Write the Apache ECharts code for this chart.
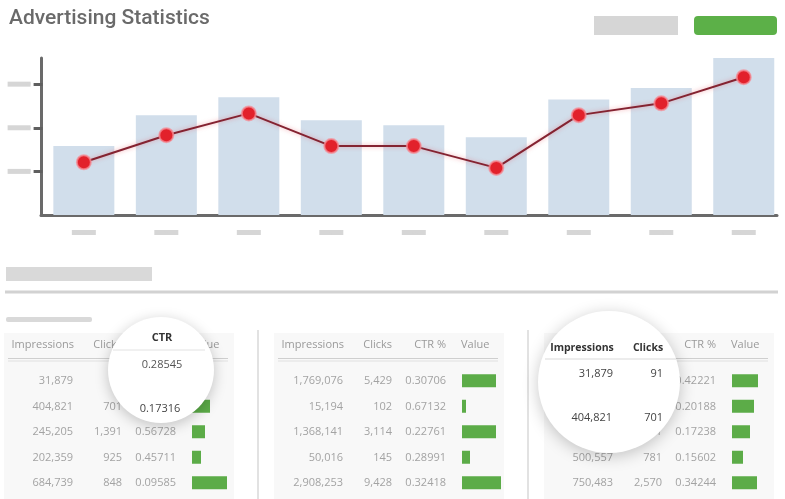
<!DOCTYPE html>
<html>
<head>
<meta charset="utf-8">
<script src="https://cdn.jsdelivr.net/npm/echarts@6/dist/echarts.min.js"></script>
<style>
  html, body { margin: 0; padding: 0; background: #fff; }
  #main { width: 785px; height: 499px; }
</style>
</head>
<body>
<div id="main"></div>
<script>
var categories = ['Jan', 'Feb', 'Mar', 'Apr', 'May', 'Jun', 'Jul', 'Aug', 'Sep'];
var barValues = [158, 229, 270, 217, 206, 178, 265, 291, 360];
var lineValues = [121, 183, 233, 158, 158, 108, 229, 256, 316];
var yTicks = [100, 200, 300];

var headers = ['Impressions', 'Clicks', 'CTR %', 'Value'];

var impressions1 = ['31,879', '404,821', '245,205', '202,359', '684,739'];
var clicks1 = ['91', '701', '1,391', '925', '848'];
var ctr1 = ['0.28545', '0.17316', '0.56728', '0.45711', '0.09585'];
var value1 = [14, 18, 13, 9, 35];

var impressions2 = ['1,769,076', '15,194', '1,368,141', '50,016', '2,908,253'];
var clicks2 = ['5,429', '102', '3,114', '145', '9,428'];
var ctr2 = ['0.30706', '0.67132', '0.22761', '0.28991', '0.32418'];
var value2 = [34, 4, 34, 8, 39];

var impressions3 = ['21,553', '347,236', '250,029', '500,557', '750,483'];
var clicks3 = ['91', '701', '431', '781', '2,570'];
var ctr3 = ['0.42221', '0.20188', '0.17238', '0.15602', '0.34244'];
var value3 = [26, 22, 18, 11, 25];

var myChart = echarts.init(document.getElementById('main'));

var tableFont = '11px "Open Sans", sans-serif';
var rowY = [381, 406.5, 432, 457.5, 483];
var panels = [
    {off: 0, imp: impressions1, clk: clicks1, ctr: ctr1, val: value1},
    {off: 270, imp: impressions2, clk: clicks2, ctr: ctr2, val: value2},
    {off: 540, imp: impressions3, clk: clicks3, ctr: ctr3, val: value3}
];

function txt(x, y, s, align, fill, font, z) {
    return {
        type: 'text', x: x, y: y, z: z || 5,
        style: {text: s, fill: fill, font: font || tableFont, textAlign: align, textVerticalAlign: 'middle'}
    };
}

var graphics = [
    {type: 'rect', shape: {x: 594, y: 16, width: 84, height: 19}, style: {fill: '#d6d6d6'}},
    {type: 'rect', shape: {x: 694, y: 16, width: 83, height: 19, r: 4}, style: {fill: '#5cb048'}},
    {type: 'rect', shape: {x: 6, y: 267, width: 146, height: 14}, style: {fill: '#d9d9d9'}},
    {type: 'line', shape: {x1: 5, y1: 292, x2: 778, y2: 292}, style: {stroke: '#d2d2d2', lineWidth: 3}},
    {type: 'rect', shape: {x: 6, y: 317, width: 86, height: 5, r: 2}, style: {fill: '#d9d9d9'}},
    {type: 'line', shape: {x1: 258, y1: 330, x2: 258, y2: 499}, style: {stroke: '#d8d8d8', lineWidth: 1.5}},
    {type: 'line', shape: {x1: 528, y1: 330, x2: 528, y2: 499}, style: {stroke: '#d8d8d8', lineWidth: 1.5}}
];

var grids = [
    {left: 42.6, right: -2.8, top: 58, bottom: 284},
    {left: 41, right: 8, top: 58, bottom: 284}
];
var xAxes = [], yAxes = [], series = [];

panels.forEach(function (p, k) {
    var o = p.off;
    graphics.push({type: 'rect', z: 0, shape: {x: o + 4, y: 333, width: 230, height: 166}, style: {fill: '#f8f8f8'}});
    graphics.push(txt(o + 74, 345, headers[0], 'right', '#9a9a9a'));
    graphics.push(txt(o + 122, 345, headers[1], 'right', '#9a9a9a'));
    graphics.push(txt(o + 176, 345, headers[2], 'right', '#9a9a9a'));
    graphics.push(txt(o + 191, 345, headers[3], 'left', '#9a9a9a'));
    graphics.push({type: 'line', shape: {x1: o + 8, y1: 358.5, x2: o + 228, y2: 358.5}, style: {stroke: '#cfcfcf', lineWidth: 1.2}});
    graphics.push({type: 'line', shape: {x1: o + 8, y1: 361, x2: o + 228, y2: 361}, style: {stroke: '#e0e0e0', lineWidth: 1}});
    for (var i = 0; i < 5; i++) {
        graphics.push(txt(o + 73, rowY[i], p.imp[i], 'right', '#a3a3a3'));
        graphics.push(txt(o + 122, rowY[i], p.clk[i], 'right', '#a3a3a3'));
        graphics.push(txt(o + 176, rowY[i], p.ctr[i], 'right', '#a3a3a3'));
    }
    var gi = grids.length;
    grids.push({left: o + 192, width: 40, top: 368, height: 127.5});
    xAxes.push({gridIndex: gi, type: 'value', min: 0, max: 40, show: false});
    yAxes.push({gridIndex: gi, type: 'category', inverse: true, data: ['1', '2', '3', '4', '5'], show: false});
    series.push({
        type: 'bar', xAxisIndex: gi, yAxisIndex: gi, data: p.val, barWidth: 13,
        itemStyle: {color: '#5cac48'}, silent: true
    });
});

// magnifier 1
graphics.push({type: 'circle', z: 50, shape: {cx: 161, cy: 370, r: 53},
    style: {fill: '#fff', shadowBlur: 14, shadowColor: 'rgba(0,0,0,0.22)', shadowOffsetY: 3}});
graphics.push(txt(162, 338, 'CTR', 'center', '#333', 'bold 11px "Open Sans", sans-serif', 51));
graphics.push({type: 'line', z: 51, shape: {x1: 113, y1: 350, x2: 205, y2: 350}, style: {stroke: '#e2e2e2', lineWidth: 1}});
graphics.push(txt(162, 365, ctr1[0], 'center', '#555', '11px "Open Sans", sans-serif', 51));
graphics.push(txt(160, 409, ctr1[1], 'center', '#444', '11px "Open Sans", sans-serif', 51));

// magnifier 2
graphics.push({type: 'circle', z: 50, shape: {cx: 609, cy: 382, r: 71},
    style: {fill: '#fff', shadowBlur: 16, shadowColor: 'rgba(0,0,0,0.22)', shadowOffsetY: 3}});
graphics.push(txt(582, 348, 'Impressions', 'center', '#333', 'bold 10.5px "Open Sans", sans-serif', 51));
graphics.push(txt(648, 348, 'Clicks', 'center', '#333', 'bold 10.5px "Open Sans", sans-serif', 51));
graphics.push({type: 'line', z: 51, shape: {x1: 545, y1: 359, x2: 676, y2: 359}, style: {stroke: '#e6e6e6', lineWidth: 1.5}});
graphics.push(txt(613, 374, impressions1[0], 'right', '#444', '11px "Open Sans", sans-serif', 51));
graphics.push(txt(663, 374, clicks1[0], 'right', '#444', '11px "Open Sans", sans-serif', 51));
graphics.push(txt(612, 418, impressions1[1], 'right', '#444', '11px "Open Sans", sans-serif', 51));
graphics.push(txt(663, 418, clicks1[1], 'right', '#444', '11px "Open Sans", sans-serif', 51));

var placeholder = {fontSize: 4, color: '#d6d6d6', backgroundColor: '#d6d6d6', width: 24, height: 5, align: 'center'};

xAxes.unshift(
    {
        gridIndex: 0, type: 'category', data: categories,
        axisLine: {show: false},
        axisTick: {alignWithLabel: true, length: 8, lineStyle: {color: '#5f5f5f', width: 3}},
        axisLabel: {margin: 15, formatter: function (v) { return '{p|' + v + '}'; }, rich: {p: placeholder}}
    },
    {
        gridIndex: 1, type: 'value', min: 0, max: 1,
        axisLine: {show: true, lineStyle: {color: '#6a6a6a', width: 3}},
        axisTick: {show: false}, axisLabel: {show: false}, splitLine: {show: false}
    }
);
yAxes.unshift(
    {
        gridIndex: 0, type: 'value', min: 0, max: 360, interval: 100,
        axisLine: {show: false},
        axisTick: {show: true, length: 9, customValues: yTicks, lineStyle: {color: '#5f5f5f', width: 3}},
        axisLabel: {margin: 12, customValues: yTicks, formatter: function (v) { return '{p|' + v + '}'; },
            rich: {p: {fontSize: 4, color: '#d6d6d6', backgroundColor: '#d6d6d6', width: 23, height: 5}}},
        splitLine: {show: false}
    },
    {
        gridIndex: 1, type: 'value', min: 0, max: 1,
        axisLine: {show: true, lineStyle: {color: '#6a6a6a', width: 3}},
        axisTick: {show: false}, axisLabel: {show: false}, splitLine: {show: false}
    }
);

series.unshift(
    {
        name: 'Impressions', type: 'bar', xAxisIndex: 0, yAxisIndex: 0,
        data: barValues, barWidth: 61, itemStyle: {color: '#d1deeb'}
    },
    {
        name: 'CTR', type: 'line', xAxisIndex: 0, yAxisIndex: 0, z: 5,
        data: lineValues, symbol: 'circle', symbolSize: 14,
        lineStyle: {color: '#842331', width: 2, shadowColor: 'rgba(235,90,100,0.5)', shadowBlur: 4},
        itemStyle: {color: '#e2212b', borderColor: 'rgba(245,140,150,0.75)', borderWidth: 2}
    }
);

var option = {
    animation: false,
    title: {
        text: 'Advertising Statistics', left: 4, top: 3,
        textStyle: {fontFamily: 'Roboto', fontSize: 21, fontWeight: 500, color: '#6a6a6a'}
    },
    grid: grids,
    xAxis: xAxes,
    yAxis: yAxes,
    series: series,
    graphic: graphics
};

myChart.setOption(option);
</script>
</body>
</html>
